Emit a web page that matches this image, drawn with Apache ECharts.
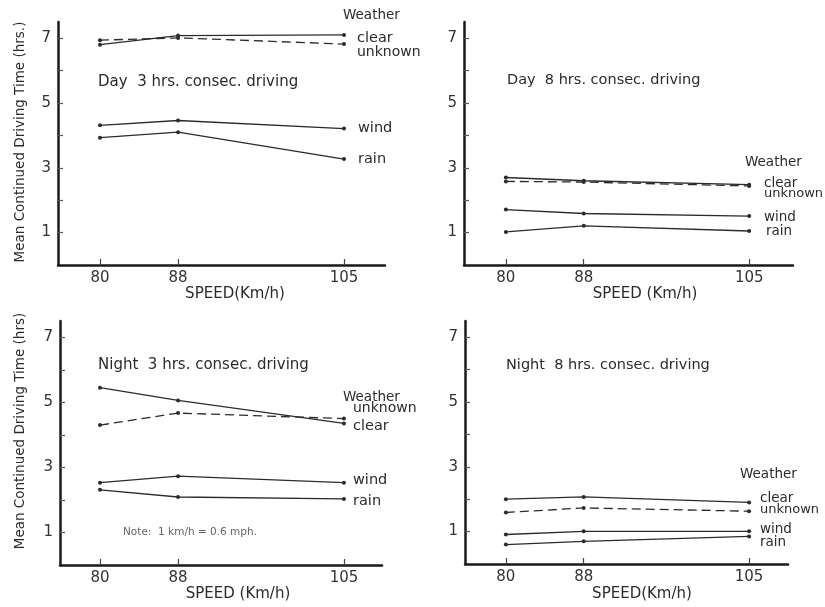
<!DOCTYPE html>
<html>
<head>
<meta charset="utf-8">
<script src="https://cdn.jsdelivr.net/npm/echarts@6/dist/echarts.min.js"></script>
<style>html,body{margin:0;background:#fff}#main{width:825px;height:607px}</style>
</head>
<body>
<div id="main"></div>
<script>
var speeds = [80, 88, 105];
var yTickValues = [1, 2, 3, 4, 5, 6, 7];
var yLabelValues = [1, 3, 5, 7];

// Day, 3 hrs consec. driving
var day3Clear = [6.80, 7.08, 7.10];
var day3Unknown = [6.94, 7.01, 6.82];
var day3Wind = [4.31, 4.46, 4.21];
var day3Rain = [3.93, 4.10, 3.27];
// Day, 8 hrs
var day8Clear = [2.70, 2.60, 2.48];
var day8Unknown = [2.58, 2.56, 2.44];
var day8Wind = [1.71, 1.59, 1.51];
var day8Rain = [1.02, 1.21, 1.05];
// Night, 3 hrs
var night3Clear = [5.45, 5.06, 4.35];
var night3Unknown = [4.30, 4.67, 4.50];
var night3Wind = [2.53, 2.73, 2.53];
var night3Rain = [2.31, 2.09, 2.03];
// Night, 8 hrs
var night8Clear = [2.00, 2.07, 1.90];
var night8Unknown = [1.59, 1.73, 1.63];
var night8Wind = [0.91, 1.01, 1.01];
var night8Rain = [0.60, 0.70, 0.85];

var FONT = 'DejaVu Sans';
var INK = '#2b2b2b';

var panels = [
  { grid: {left: 58, top: 22, width: 327, height: 243}, xmin: 75.7, xmax: 109.2,
    lines: [day3Clear, day3Unknown, day3Wind, day3Rain] },
  { grid: {left: 464, top: 22, width: 329, height: 243}, xmin: 75.7, xmax: 109.5,
    lines: [day8Clear, day8Unknown, day8Wind, day8Rain] },
  { grid: {left: 60, top: 321, width: 322, height: 244}, xmin: 75.9, xmax: 108.9,
    lines: [night3Clear, night3Unknown, night3Wind, night3Rain] },
  { grid: {left: 465, top: 321, width: 323, height: 243}, xmin: 75.8, xmax: 109.0,
    lines: [night8Clear, night8Unknown, night8Wind, night8Rain] }
];
var names = ['clear', 'unknown', 'wind', 'rain'];

var grids = [], xAxes = [], yAxes = [], series = [];
panels.forEach(function (p, i) {
  grids.push(Object.assign({containLabel: false}, p.grid));
  xAxes.push({
    type: 'value', gridIndex: i, min: p.xmin, max: p.xmax,
    axisLine: {show: true, onZero: false, lineStyle: {color: '#1a1a1a', width: 2.5}},
    axisTick: {show: true, inside: true, length: 6, customValues: speeds, lineStyle: {color: '#444', width: 1.2}},
    axisLabel: {customValues: speeds, color: '#333', fontSize: 15, margin: 6, fontFamily: FONT},
    splitLine: {show: false}
  });
  yAxes.push({
    type: 'value', gridIndex: i, min: 0, max: 7.5,
    axisLine: {show: true, onZero: false, lineStyle: {color: '#1a1a1a', width: 2.5}},
    axisTick: {show: true, inside: true, length: 5, customValues: yTickValues, lineStyle: {color: '#555', width: 1.2}},
    axisLabel: {customValues: yLabelValues, color: '#333', fontSize: 15, margin: 7, fontFamily: FONT},
    splitLine: {show: false}
  });
  p.lines.forEach(function (vals, k) {
    series.push({
      type: 'line', name: names[k], xAxisIndex: i, yAxisIndex: i,
      data: speeds.map(function (s, j) { return [s, vals[j]]; }),
      symbol: 'circle', symbolSize: 4, silent: true, animation: false,
      itemStyle: {color: INK},
      lineStyle: {color: INK, width: 1.3, type: names[k] === 'unknown' ? [9, 5] : 'solid'}
    });
  });
});

function txt(x, y, s, size, opts) {
  opts = opts || {};
  var el = {
    type: 'text', x: x, y: y, silent: true,
    style: {text: s, fill: opts.fill || '#2b2b2b', font: size + 'px "' + FONT + '"',
            align: opts.align || 'left', verticalAlign: 'middle'}
  };
  if (opts.rotation) el.rotation = opts.rotation;
  return el;
}

var texts = [
  // panel titles
  txt(98, 82, 'Day  3 hrs. consec. driving', 15),
  txt(507, 80, 'Day  8 hrs. consec. driving', 14.5),
  txt(98, 365, 'Night  3 hrs. consec. driving', 15),
  txt(506, 365, 'Night  8 hrs. consec. driving', 14.5),
  // weather labels, day 3
  txt(343, 15, 'Weather', 13.5), txt(357, 38, 'clear', 14.5), txt(357, 52, 'unknown', 14),
  txt(358, 128, 'wind', 14.5), txt(358, 159, 'rain', 14.5),
  // day 8
  txt(745, 162, 'Weather', 13.5), txt(764, 183, 'clear', 13.5), txt(764, 194, 'unknown', 13),
  txt(764, 217, 'wind', 13.5), txt(766, 231, 'rain', 13.5),
  // night 3
  txt(343, 397, 'Weather', 13.5), txt(353, 408, 'unknown', 14), txt(353, 426, 'clear', 14.5),
  txt(353, 480, 'wind', 14.5), txt(353, 501, 'rain', 14.5),
  // night 8
  txt(740, 474, 'Weather', 13.5), txt(760, 498, 'clear', 13.5), txt(760, 510, 'unknown', 13),
  txt(760, 529, 'wind', 13.5), txt(760, 542, 'rain', 13.5),
  // note
  txt(123, 532, 'Note:  1 km/h = 0.6 mph.', 10.5, {fill: '#666'}),
  // x axis titles
  txt(235, 294, 'SPEED(Km/h)', 15, {align: 'center'}),
  txt(645, 294, 'SPEED (Km/h)', 15, {align: 'center'}),
  txt(238, 594, 'SPEED (Km/h)', 15, {align: 'center'}),
  txt(642, 594, 'SPEED(Km/h)', 15, {align: 'center'}),
  // y axis titles
  txt(20, 142, 'Mean Continued Driving Time (hrs.)', 13.5, {align: 'center', rotation: Math.PI / 2}),
  txt(20, 431, 'Mean Continued Driving Time (hrs)', 13.5, {align: 'center', rotation: Math.PI / 2})
];

var chart = echarts.init(document.getElementById('main'));
chart.setOption({
  backgroundColor: '#fff',
  animation: false,
  grid: grids,
  xAxis: xAxes,
  yAxis: yAxes,
  series: series,
  graphic: texts
});
</script>
</body>
</html>
